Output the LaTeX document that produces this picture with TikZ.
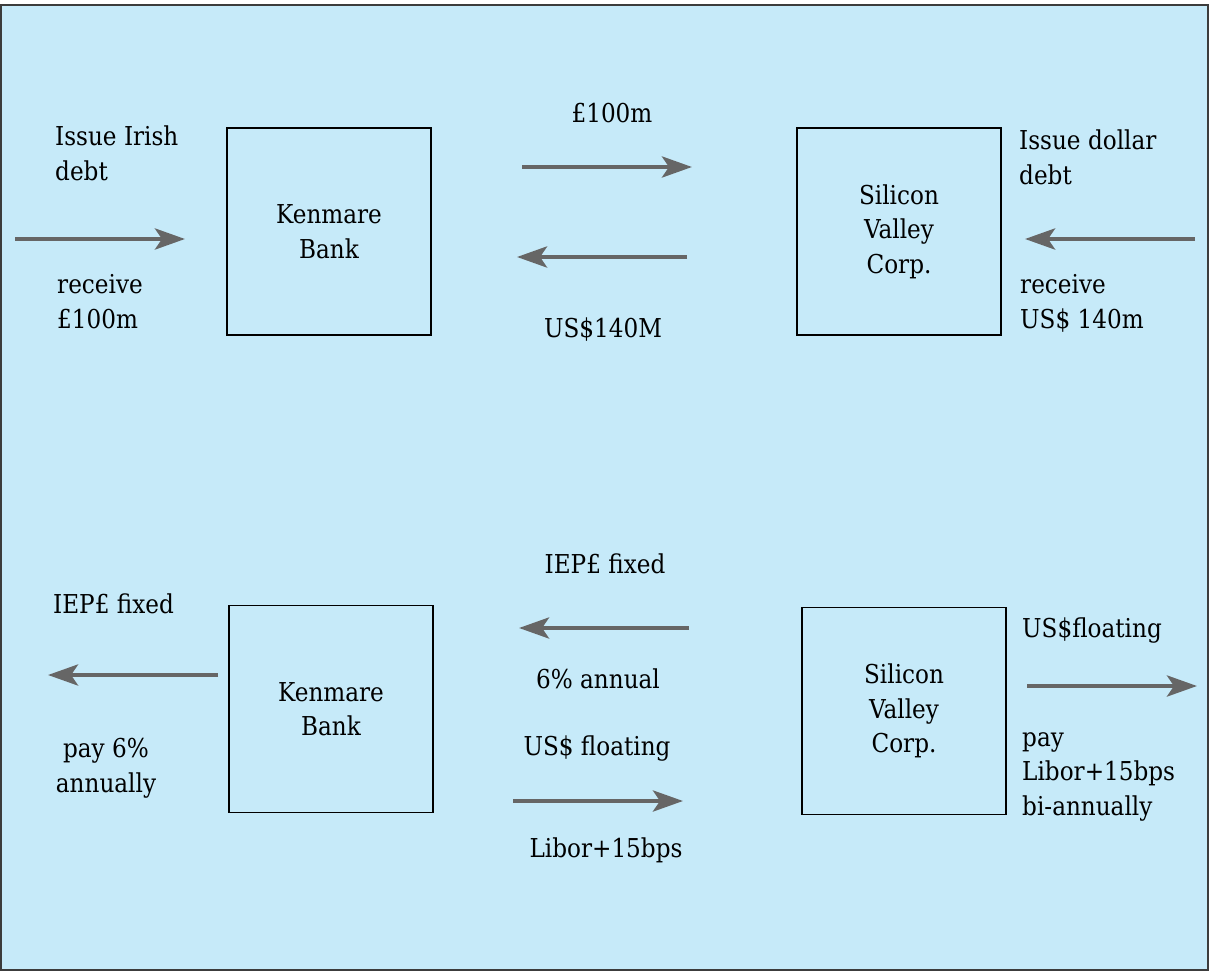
\documentclass[tikz,border=0pt]{standalone}
\usepackage{fontspec}
\setmainfont{DejaVu Serif}[FakeStretch=0.89]
\usetikzlibrary{arrows.meta}
\definecolor{bgblue}{RGB}{198,234,249}
\definecolor{arrgray}{RGB}{102,102,102}
\definecolor{framegray}{RGB}{60,60,60}
\tikzset{
  party/.style={draw=black, line width=1.3pt, minimum width=204pt, minimum height=207pt, align=center, inner sep=0pt, font=\fontsize{26}{34.5}\selectfont},
  lbl/.style={inner sep=0pt, font=\fontsize{26}{34.5}\selectfont},
  flow/.style={draw=arrgray, line width=4.5pt, -{Stealth[length=30pt,width=21pt,inset=7pt]}}
}
\begin{document}
\begin{tikzpicture}[x=1pt,y=-1pt]
\useasboundingbox (0,0) rectangle (1209,971);
\draw[framegray, line width=2pt, fill=bgblue] (1,5) rectangle (1208,970);
% boxes
\node[party] (kb1) at (329,231.5) {Kenmare\\Bank};
\node[party] (sv1) at (899,231.5) {Silicon\\Valley\\Corp.};
\node[party] (kb2) at (331,709) {Kenmare\\Bank};
\node[party] (sv2) at (904,711) {Silicon\\Valley\\Corp.};
% arrow ends
\coordinate (a1s) at (15,239);   \coordinate (a1e) at (185,239);
\coordinate (a2s) at (522,167);  \coordinate (a2e) at (692,167);
\coordinate (a3s) at (687,257);  \coordinate (a3e) at (517,257);
\coordinate (a4s) at (1195,239); \coordinate (a4e) at (1025,239);
\coordinate (b1s) at (218,675);  \coordinate (b1e) at (48,675);
\coordinate (b2s) at (689,628);  \coordinate (b2e) at (519,628);
\coordinate (b3s) at (513,801);  \coordinate (b3e) at (683,801);
\coordinate (b4s) at (1027,686); \coordinate (b4e) at (1197,686);
\draw[flow] (a1s) -- (a1e);
\draw[flow] (a2s) -- (a2e);
\draw[flow] (a3s) -- (a3e);
\draw[flow] (a4s) -- (a4e);
\draw[flow] (b1s) -- (b1e);
\draw[flow] (b2s) -- (b2e);
\draw[flow] (b3s) -- (b3e);
\draw[flow] (b4s) -- (b4e);
% labels top (base anchor = baseline of last line)
\node[lbl, anchor=base west, align=left] (t1) at (55,180) {Issue Irish\\debt};
\node[lbl, anchor=base west, align=left] (t2) at (57,328) {receive\\£100m};
\node[lbl, anchor=base] (t3) at (612,123) {£100m};
\node[lbl, anchor=base] (t4) at (603,337) {US\$140M};
\node[lbl, anchor=base west, align=left] (t5) at (1019,184) {Issue dollar\\debt};
\node[lbl, anchor=base west, align=left] (t6) at (1020,328) {receive\\US\$ 140m};
% labels bottom
\node[lbl, anchor=base west] (u1) at (53,613) {IEP£ fixed};
\node[lbl, anchor=base, align=center] (u2) at (106,792) {pay 6\%\\annually};
\node[lbl, anchor=base] (u3) at (605,573) {IEP£ fixed};
\node[lbl, anchor=base] (u4) at (598,688) {6\% annual};
\node[lbl, anchor=base] (u5) at (597,755) {US\$ floating};
\node[lbl, anchor=base] (u6) at (606,857) {Libor+15bps};
\node[lbl, anchor=base west] (u7) at (1022,637) {US\$floating};
\node[lbl, anchor=base west, align=left] (u8) at (1022,815) {pay\\Libor+15bps\\bi-annually};
\end{tikzpicture}
\end{document}
